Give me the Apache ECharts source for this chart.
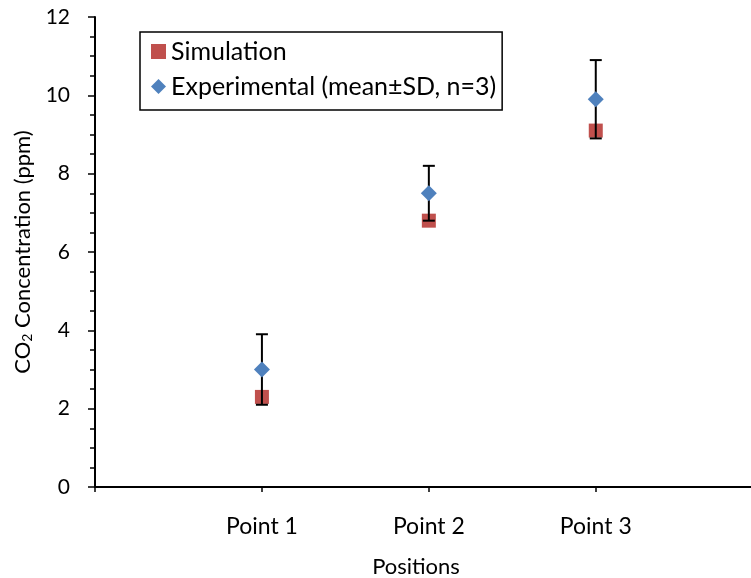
<!DOCTYPE html>
<html>
<head>
<meta charset="utf-8">
<script src="https://cdn.jsdelivr.net/npm/echarts@6/dist/echarts.min.js"></script>
<style>
  html, body { margin: 0; padding: 0; background: #fff; }
  #chart { width: 751px; height: 578px; }
</style>
</head>
<body>
<div id="chart"></div>
<script>
// positions on the x axis (0 is the unlabelled origin)
const positions = ['', 'Point 1', 'Point 2', 'Point 3'];
const xIndex = [1, 2, 3];
const simulation = [2.3, 6.8, 9.1];
const experimental = [3.0, 7.5, 9.9];
const expSD = [0.9, 0.7, 1.0];

const FONT = 'Lato, "Liberation Sans", sans-serif';

const simData = xIndex.map((x, i) => [x, simulation[i]]);
const expData = xIndex.map((x, i) => [x, experimental[i]]);
const errData = xIndex.map((x, i) => [x, experimental[i] - expSD[i], experimental[i] + expSD[i]]);

const chart = echarts.init(document.getElementById('chart'));
chart.setOption({
  animation: false,
  backgroundColor: '#fff',
  grid: { left: 95, top: 17, right: 0, bottom: 91, outerBoundsMode: 'none' },
  legend: {
    orient: 'vertical',
    left: 140,
    top: 32,
    padding: [7, 6, 11, 11],
    borderColor: '#000',
    borderWidth: 1.5,
    itemWidth: 15,
    itemHeight: 15,
    itemGap: 10,
    textStyle: { fontFamily: FONT, fontSize: 25, color: '#000' },
    data: [
      { name: 'Simulation', icon: 'rect' },
      { name: 'Experimental (mean±SD, n=3)', icon: 'diamond' }
    ]
  },
  xAxis: {
    type: 'value',
    min: 0,
    max: 3.93,
    name: 'Positions',
    nameLocation: 'middle',
    nameGap: 69,
    nameTextStyle: { fontFamily: FONT, fontSize: 22, color: '#000', padding: [0, 14, 0, 0] },
    axisLine: { lineStyle: { color: '#000', width: 2 } },
    axisTick: { show: true, length: 5, customValues: [0, 1, 2, 3], lineStyle: { color: '#000', width: 1.5 } },
    axisLabel: {
      margin: 28,
      fontFamily: FONT,
      fontSize: 23,
      color: '#000',
      customValues: xIndex,
      formatter: v => positions[v] || ''
    },
    splitLine: { show: false }
  },
  yAxis: {
    type: 'value',
    min: 0,
    max: 12,
    interval: 2,
    name: 'CO{sub|2} Concentration (ppm)',
    nameLocation: 'middle',
    nameGap: 58,
    nameTextStyle: {
      fontFamily: FONT,
      fontSize: 22,
      color: '#000',
      rich: {
        sub: { fontFamily: FONT, fontSize: 14, color: '#000', verticalAlign: 'bottom', padding: [10, 0, 0, 0] }
      }
    },
    axisLine: { show: true, lineStyle: { color: '#000', width: 2 } },
    axisTick: { show: true, length: 7, lineStyle: { color: '#000', width: 1.5 } },
    minorTick: { show: true, splitNumber: 4, length: 5, lineStyle: { color: '#000', width: 1.5 } },
    axisLabel: { margin: 25, fontFamily: FONT, fontSize: 21, color: '#000' },
    splitLine: { show: false }
  },
  series: [
    {
      name: 'Simulation',
      type: 'scatter',
      symbol: 'rect',
      symbolSize: 14,
      itemStyle: { color: '#C0504D', opacity: 1 },
      data: simData,
      z: 2
    },
    {
      name: 'SD',
      type: 'custom',
      z: 3,
      renderItem: function (params, api) {
        const x = api.value(0);
        const lo = api.coord([x, api.value(1)]);
        const hi = api.coord([x, api.value(2)]);
        const half = 6;
        const style = { stroke: '#000', lineWidth: 2 };
        return {
          type: 'group',
          children: [
            { type: 'line', shape: { x1: lo[0], y1: lo[1], x2: hi[0], y2: hi[1] }, style: style },
            { type: 'line', shape: { x1: lo[0] - half, y1: lo[1], x2: lo[0] + half, y2: lo[1] }, style: style },
            { type: 'line', shape: { x1: hi[0] - half, y1: hi[1], x2: hi[0] + half, y2: hi[1] }, style: style }
          ]
        };
      },
      data: errData
    },
    {
      name: 'Experimental (mean±SD, n=3)',
      type: 'scatter',
      symbol: 'diamond',
      symbolSize: 16,
      itemStyle: { color: '#4F81BD', opacity: 1 },
      data: expData,
      z: 4
    }
  ]
});
</script>
</body>
</html>
